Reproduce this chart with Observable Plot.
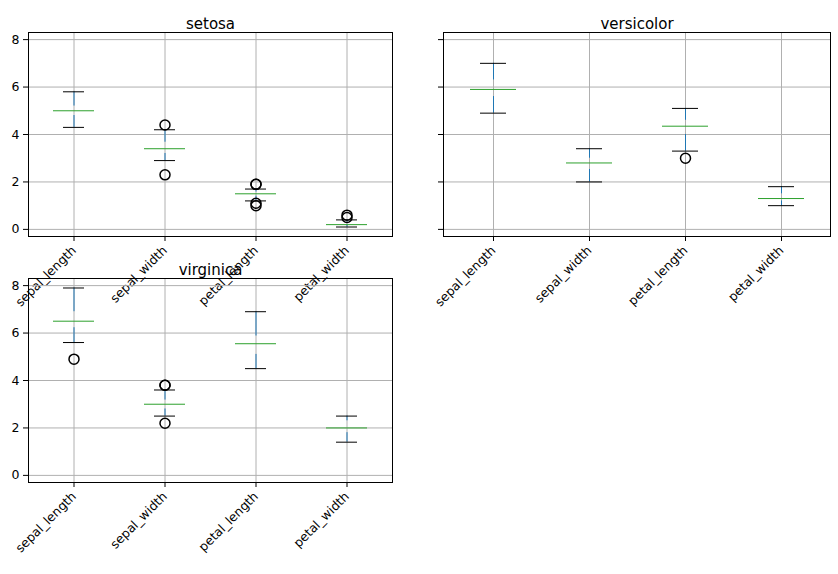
<!DOCTYPE html>
<html><head><meta charset="utf-8">
<script src="https://cdn.jsdelivr.net/npm/d3@7"></script>
<script src="https://cdn.jsdelivr.net/npm/@observablehq/plot@0.6"></script>
<style>
body{margin:0;background:#fff;font-family:"DejaVu Sans",sans-serif}
#fig{position:relative;width:838px;height:574px}
#fig > div{position:absolute}
svg{overflow:visible}
</style></head><body>
<div id="fig"><div id="p0" style="left:0;top:0"></div><div id="p1" style="left:415px;top:0"></div><div id="p2" style="left:0;top:246px"></div></div>
<script>
const features = ["sepal_length", "sepal_width", "petal_length", "petal_width"];
// [lowWhisker, q1, median, q3, highWhisker] per feature
const setosa = [[4.3, 4.8, 5.0, 5.2, 5.8], [2.9, 3.2, 3.4, 3.675, 4.2], [1.2, 1.4, 1.5, 1.575, 1.7], [0.1, 0.2, 0.2, 0.3, 0.4]];
const setosaOut = [[], [2.3, 4.4], [1.0, 1.1, 1.9, 1.9], [0.5, 0.6]];
const versicolor = [[4.9, 5.6, 5.9, 6.3, 7.0], [2.0, 2.525, 2.8, 3.0, 3.4], [3.3, 4.0, 4.35, 4.6, 5.1], [1.0, 1.2, 1.3, 1.5, 1.8]];
const versicolorOut = [[], [], [3.0], []];
const virginica = [[5.6, 6.225, 6.5, 6.9, 7.9], [2.5, 2.8, 3.0, 3.175, 3.6], [4.5, 5.1, 5.55, 5.875, 6.9], [1.4, 1.8, 2.0, 2.3, 2.5]];
const virginicaOut = [[4.9], [2.2, 3.8, 3.8], [], []];

function panel(title, stats, outs, showY, width) {
  const rows = features.map((f, i) => ({f, lo: stats[i][0], q1: stats[i][1], med: stats[i][2], q3: stats[i][3], hi: stats[i][4]}));
  const pts = features.flatMap((f, i) => outs[i].map(v => ({f, v})));
  return Plot.plot({
    width, height: 316,
    marginTop: 32, marginBottom: 80, marginLeft: 28, marginRight: 8,
    style: {fontFamily: "DejaVu Sans", fontSize: "12.5px", color: "#000"},
    x: {domain: features, padding: 0, label: null, tickRotate: -45, tickSize: 5},
    y: {domain: [-0.3, 8.3], ticks: [0, 2, 4, 6, 8], label: null, tickSize: 5,
        tickFormat: showY ? d => d : () => ""},
    marks: [
      Plot.gridX({stroke: "#b0b0b0", strokeOpacity: 1}),
      Plot.gridY({ticks: [0, 2, 4, 6, 8], stroke: "#b0b0b0", strokeOpacity: 1}),
      Plot.frame({stroke: "#000"}),
      Plot.ruleX(rows, {x: "f", y1: "lo", y2: "q1", stroke: "#1f77b4"}),
      Plot.ruleX(rows, {x: "f", y1: "q3", y2: "hi", stroke: "#1f77b4"}),
      Plot.tickY(rows, {x: "f", y: "lo", stroke: "#000", inset: 35}),
      Plot.tickY(rows, {x: "f", y: "hi", stroke: "#000", inset: 35}),
      Plot.barY(rows, {x: "f", y1: "q1", y2: "q3", fill: "white", stroke: "#1f77b4", inset: 25}),
      Plot.tickY(rows, {x: "f", y: "med", stroke: "#2ca02c", inset: 25}),
      Plot.dot(pts, {x: "f", y: "v", r: 5, stroke: "#000", fill: "none"}),
      Plot.text([title], {frameAnchor: "top", dy: -14, fontSize: 15, fill: "#000"})
    ]
  });
}
d3.select("#p0").append(() => panel("setosa", setosa, setosaOut, true, 400));
d3.select("#p1").append(() => panel("versicolor", versicolor, versicolorOut, false, 423));
d3.select("#p2").append(() => panel("virginica", virginica, virginicaOut, true, 400));
</script></body></html>
